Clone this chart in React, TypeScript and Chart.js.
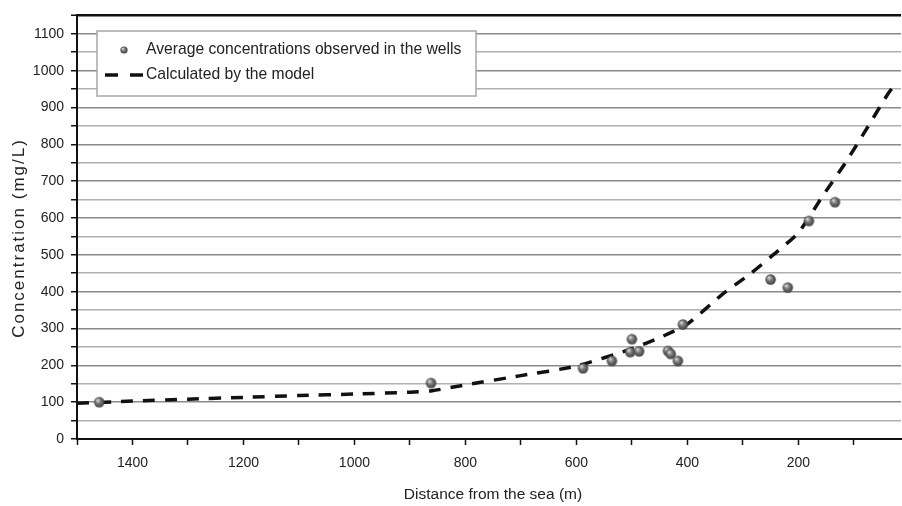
import React, { useEffect, useRef } from "react";
import { Chart, registerables } from "chart.js";

Chart.register(...registerables);

const observedX = [1460, 862, 588, 536, 500, 503, 487, 435, 430, 417, 408, 250, 219, 181, 134];
const observedY = [100, 152, 192, 212, 271, 236, 238, 239, 231, 212, 311, 433, 411, 592, 643];

const modelX = [1500, 1400, 1300, 1200, 1100, 1000, 900, 860, 800, 700, 600, 500, 450, 400, 336, 287, 246, 200, 156, 116, 77, 39, 28];
const modelY = [97, 103, 108, 113, 118, 122, 127, 131, 147, 172, 198, 245, 275, 312, 394, 448, 499, 560, 660, 748, 842, 936, 958];

const xTickValues = [1500, 1400, 1300, 1200, 1100, 1000, 900, 800, 700, 600, 500, 400, 300, 200, 100];

const observedLabel = "Average concentrations observed in the wells";
const modelLabel = "Calculated by the model";
const xTitle = "Distance from the sea (m)";
const yTitle = "Concentration (mg/L)";

const FONT = "'Liberation Sans', Arial, sans-serif";

function makeSphere(r: number): HTMLCanvasElement {
  const c = document.createElement("canvas");
  const s = Math.ceil(r * 2 + 2);
  c.width = s;
  c.height = s;
  const ctx = c.getContext("2d")!;
  const cx = s / 2;
  const g = ctx.createRadialGradient(cx - r * 0.35, cx - r * 0.4, r * 0.1, cx, cx, r);
  g.addColorStop(0, "#d8d8d8");
  g.addColorStop(0.4, "#808080");
  g.addColorStop(1, "#3c3c3c");
  ctx.fillStyle = g;
  ctx.beginPath();
  ctx.arc(cx, cx, r, 0, Math.PI * 2);
  ctx.fill();
  return c;
}

export default function App() {
  const ref = useRef<HTMLCanvasElement | null>(null);

  useEffect(() => {
    if (!ref.current) return;
    const sphere = makeSphere(5.2);
    const smallSphere = makeSphere(3.6);

    const overlay = {
      id: "overlay",
      afterDraw(chart: any) {
        const ctx = chart.ctx;
        ctx.save();
        // legend box
        ctx.fillStyle = "#ffffff";
        ctx.fillRect(97, 31, 379, 65);
        ctx.strokeStyle = "#a8a8a8";
        ctx.lineWidth = 1.5;
        ctx.strokeRect(97, 31, 379, 65);
        ctx.drawImage(smallSphere, 124 - smallSphere.width / 2, 50 - smallSphere.height / 2);
        ctx.strokeStyle = "#111";
        ctx.lineWidth = 3.5;
        ctx.setLineDash([13, 12]);
        ctx.beginPath();
        ctx.moveTo(105, 75);
        ctx.lineTo(145, 75);
        ctx.stroke();
        ctx.setLineDash([]);
        ctx.fillStyle = "#222";
        ctx.font = `15.7px ${FONT}`;
        ctx.textBaseline = "middle";
        ctx.textAlign = "left";
        ctx.fillText(chart.data.datasets[0].label, 146, 50);
        ctx.fillText(chart.data.datasets[1].label, 146, 75);
        // x title
        ctx.font = `15.5px ${FONT}`;
        ctx.textAlign = "center";
        ctx.fillText(xTitle, 493, 495);
        // y title
        ctx.font = `17px ${FONT}`;
        ctx.translate(19, 239);
        ctx.rotate(-Math.PI / 2);
        (ctx as any).letterSpacing = "2px";
        ctx.fillText(yTitle, 1, 0);
        ctx.restore();
      },
    };

    const chart = new Chart(ref.current, {
      type: "scatter",
      data: {
        datasets: [
          {
            label: observedLabel,
            data: observedX.map((x, i) => ({ x, y: observedY[i] })),
            pointStyle: sphere as any,
            pointRadius: 5,
            order: 0,
          },
          {
            label: modelLabel,
            data: modelX.map((x, i) => ({ x, y: modelY[i] })),
            showLine: true,
            borderColor: "#111",
            borderWidth: 3.5,
            borderDash: [12, 10],
            pointRadius: 0,
            tension: 0.2,
            order: 1,
          } as any,
        ],
      },
      options: {
        responsive: false,
        animation: false,
        layout: { autoPadding: false, padding: { top: 10, right: 1, left: 0, bottom: 0 } },
        plugins: {
          legend: { display: false },
          tooltip: { enabled: false },
        },
        scales: {
          x: {
            type: "linear",
            reverse: true,
            min: 15,
            max: 1500,
            afterBuildTicks: (scale: any) => {
              scale.ticks = xTickValues.map((v) => ({ value: v }));
            },
            afterFit: (scale: any) => {
              scale.height = 67;
              scale.paddingLeft = 0;
              scale.paddingRight = 0;
            },
            ticks: {
              autoSkip: false,
              maxRotation: 0,
              padding: 10,
              color: "#222",
              font: { family: FONT, size: 14 },
              callback: (v: any) => (Number(v) % 200 === 0 ? String(v) : ""),
            },
            grid: {
              drawOnChartArea: false,
              drawTicks: true,
              tickLength: 6,
              tickColor: "#111",
              tickWidth: 1.5,
            } as any,
            border: { color: "#111", width: 2 },
          },
          y: {
            type: "linear",
            min: 0,
            max: 1150,
            afterFit: (scale: any) => {
              scale.width = 77;
            },
            ticks: {
              stepSize: 50,
              autoSkip: false,
              padding: 7,
              color: "#222",
              font: { family: FONT, size: 14 },
              callback: (v: any) => (Number(v) % 100 === 0 ? String(v) : ""),
            },
            grid: {
              drawTicks: true,
              tickLength: 6,
              tickColor: "#111",
              tickWidth: 1.5,
              color: (c: any) => {
                const v = c.tick ? c.tick.value : 0;
                if (v >= 1150) return "#111";
                return v % 100 === 0 ? "#8a8a8a" : "#b0b0b0";
              },
              lineWidth: (c: any) => {
                const v = c.tick ? c.tick.value : 0;
                return v >= 1150 ? 2.5 : 1.5;
              },
            } as any,
            border: { color: "#111", width: 2 },
          },
        },
      } as any,
      plugins: [overlay],
    });
    return () => chart.destroy();
  }, []);

  return (
    <div style={{ position: "fixed", left: 0, top: 0, width: 902, height: 506, background: "#fff" }}>
      <canvas ref={ref} width={902} height={506} style={{ display: "block" }} />
    </div>
  );
}
